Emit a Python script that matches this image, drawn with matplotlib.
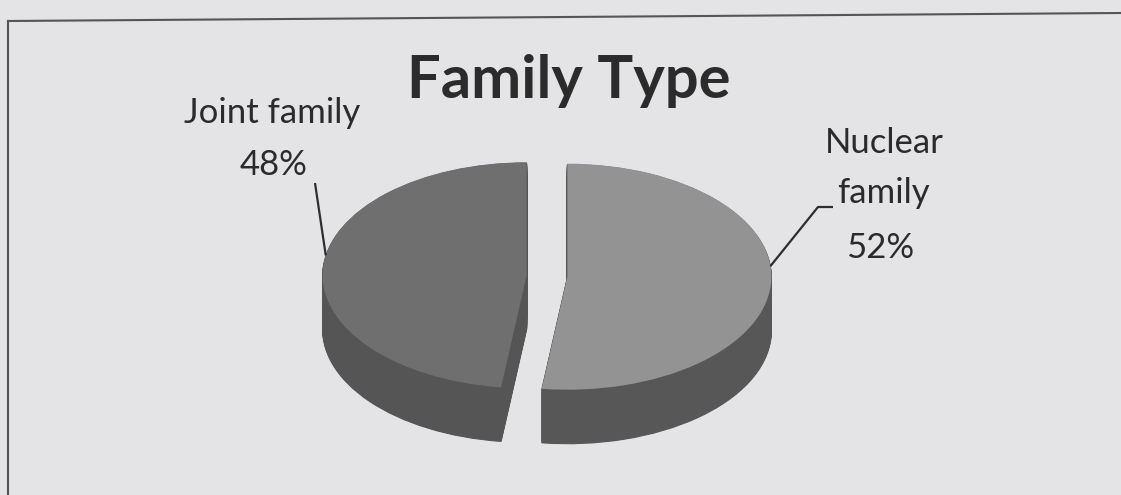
import numpy as np
import matplotlib
matplotlib.use("Agg")
import matplotlib.pyplot as plt
from matplotlib.lines import Line2D

# ---- data ----
title = "Family Type"
categories = ["Joint family", "Nuclear family"]
label_lines = [["Joint family"], ["Nuclear", "family"]]
values = [48, 52]
top_colors = ["#6f6f6f", "#939393"]
side_colors = ["#555555", "#575757"]

W, H = 1121, 495
fig = plt.figure(figsize=(W / 100, H / 100), dpi=100)
fig.patch.set_facecolor("#e4e4e6")

# pie geometry (pixels): centre, horizontal / vertical radii, depth
CX, CY, RX, RY, DEPTH = 547, 276, 204, 113, 54
explode = [0.10, 0.10]

ax = fig.add_axes([0, 0, 1, 1])
ax.set_facecolor("none")

def px2data(px, py):
    return (px - CX) / RX, (CY - py) / RY

depth = DEPTH / RY
n_layers = 60
for d in np.linspace(depth, depth / n_layers, n_layers):
    ax.pie(values, startangle=90, counterclock=True, explode=explode,
           colors=side_colors, center=(0, -d), radius=1,
           wedgeprops=dict(linewidth=0.8, edgecolor=None))
    for w, c in zip(ax.patches[-len(values):], side_colors):
        w.set_edgecolor(c)
ax.pie(values, startangle=90, counterclock=True, explode=explode,
       colors=top_colors, center=(0, 0), radius=1,
       wedgeprops=dict(linewidth=0))

ax.set_aspect("auto")
x0, y1 = px2data(0, 0)
x1, y0 = px2data(W, H)
ax.set_xlim(x0, x1)
ax.set_ylim(y0, y1)
ax.axis("off")

# slice geometry for leader anchors
fracs = np.array(values) / sum(values)
starts = 90 + 360 * np.concatenate([[0], np.cumsum(fracs)[:-1]])
mids = starts + 180 * fracs
anchors = []
for m, e, shift in zip(mids, explode, [-6.5, 9.0]):
    ox, oy = e * np.cos(np.radians(m)), e * np.sin(np.radians(m))
    a = np.radians(m + shift)
    anchors.append((ox + np.cos(a), oy + np.sin(a)))

lc = "#2e2e2e"
# Joint family leader
jx, jy = px2data(315, 183)
ax.plot([jx, anchors[0][0]], [jy, anchors[0][1]], color=lc, lw=1.6,
        solid_capstyle="butt")
# Nuclear family leader (short horizontal then diagonal)
nx0, ny0 = px2data(833, 207)
nx1, ny1 = px2data(818, 207)
ax.plot([nx0, nx1, anchors[1][0]], [ny0, ny1, anchors[1][1]], color=lc,
        lw=1.6, solid_capstyle="butt")

tc = "#2b2b2b"
fam = ["Lato", "DejaVu Sans"]

def ftext(px, py, s, **kw):
    fig.text(px / W, 1 - py / H, s, color=tc, family=fam, ha="center",
             va="baseline", **kw)

ftext(569, 98, title, fontsize=43, fontweight="bold")

# labels
ftext(272, 123, label_lines[0][0], fontsize=25)
ftext(274, 175, f"{values[0]}%", fontsize=25)
ftext(884, 153, label_lines[1][0], fontsize=25)
ftext(883, 203, label_lines[1][1], fontsize=25)
ftext(880, 258, f"{values[1]}%", fontsize=25)

# frame of the scanned figure box
fig.add_artist(Line2D([8 / W, 1.0], [1 - 21 / H, 1 - 13 / H],
                      transform=fig.transFigure, color="#555555", lw=1.5))
fig.add_artist(Line2D([8 / W, 8 / W], [1 - 21 / H, 0],
                      transform=fig.transFigure, color="#555555", lw=1.5))

fig.savefig("out.png", dpi=100, facecolor=fig.get_facecolor())
